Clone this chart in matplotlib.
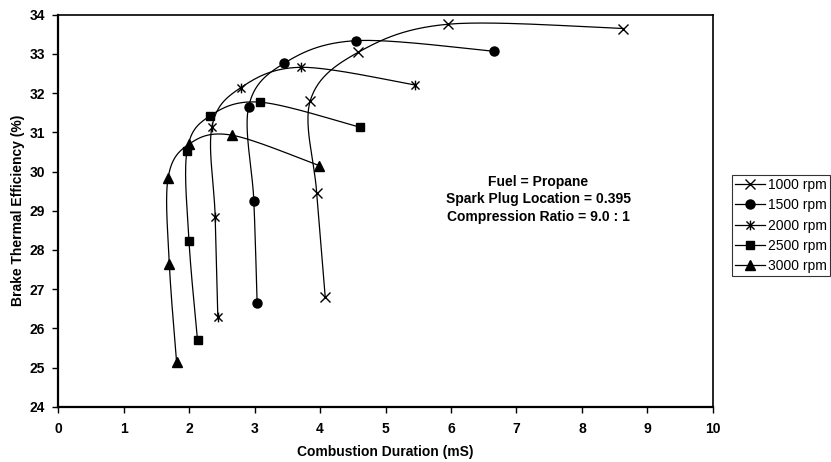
import numpy as np
import matplotlib
matplotlib.use("Agg")
import matplotlib.pyplot as plt
from matplotlib.path import Path

plt.rcParams['font.family'] = ['Liberation Sans', 'DejaVu Sans']

labels = ["1000 rpm", "1500 rpm", "2000 rpm", "2500 rpm", "3000 rpm"]
x1000 = [4.08, 3.95, 3.85, 4.58, 5.96, 8.63]
y1000 = [26.79, 29.46, 31.80, 33.04, 33.76, 33.65]
x1500 = [3.04, 2.99, 2.91, 3.45, 4.55, 6.66]
y1500 = [26.65, 29.25, 31.65, 32.76, 33.34, 33.07]
x2000 = [2.44, 2.40, 2.35, 2.79, 3.71, 5.45]
y2000 = [26.30, 28.85, 31.14, 32.14, 32.66, 32.21]
x2500 = [2.13, 2.00, 1.97, 2.32, 3.09, 4.61]
y2500 = [25.70, 28.23, 30.53, 31.42, 31.77, 31.13]
x3000 = [1.81, 1.70, 1.68, 2.00, 2.65, 3.99]
y3000 = [25.15, 27.63, 29.83, 30.70, 30.93, 30.15]

xs = [x1000, x1500, x2000, x2500, x3000]
ys = [y1000, y1500, y2000, y2500, y3000]

star = Path([(-1, -1), (1, 1), (-1, 1), (1, -1), (0, -1.2), (0, 1.2)],
            [Path.MOVETO, Path.LINETO, Path.MOVETO, Path.LINETO, Path.MOVETO, Path.LINETO])
markers = ['x', 'o', star, 's', '^']
msizes = [7, 6.5, 7, 5.5, 6.5]


def smooth(x, y, sx=65.5, sy=39.2, n=30):
    P = np.column_stack([np.array(x) * sx, np.array(y) * sy])
    Pe = np.vstack([P[0], P, P[-1]])
    out = []
    t = np.linspace(0, 1, n)[:, None]
    for i in range(1, len(Pe) - 2):
        p0, p1, p2, p3 = Pe[i - 1], Pe[i], Pe[i + 1], Pe[i + 2]
        c1 = p1 + (p2 - p0) / 6
        c2 = p2 - (p3 - p1) / 6
        seg = ((1 - t) ** 3) * p1 + 3 * ((1 - t) ** 2) * t * c1 + 3 * (1 - t) * t ** 2 * c2 + t ** 3 * p2
        out.append(seg)
    out = np.vstack(out)
    return out[:, 0] / sx, out[:, 1] / sy


fig = plt.figure(figsize=(8.31, 4.62), dpi=100)
ax = fig.add_axes([0.0698, 0.1197, 0.858 - 0.0698, 0.968 - 0.1197])

handles = []
for x, y, m, ms, lab in zip(xs, ys, markers, msizes, labels):
    sxv, syv = smooth(x, y)
    ax.plot(sxv, syv, color='black', lw=0.9)
    ax.plot(x, y, linestyle='none', marker=m, markersize=ms, color='black',
            markeredgewidth=1.0)
    h, = ax.plot([], [], color='black', lw=0.9, marker=m, markersize=ms,
                 markeredgewidth=1.0, label=lab)
    handles.append(h)

ax.set_xlim(0, 10)
ax.set_ylim(24, 34)
ax.set_xticks(range(0, 11))
ax.set_yticks(range(24, 35))
for lab in ax.get_xticklabels() + ax.get_yticklabels():
    lab.set_fontweight('bold')
    lab.set_fontsize(10)
ax.tick_params(axis='x', direction='out', length=4.5, width=1, pad=6.5)
ax.tick_params(axis='y', direction='out', length=4.5, width=1, pad=4.9)
for s in ['left', 'bottom']:
    ax.spines[s].set_linewidth(1.6)
for s in ['top', 'right']:
    ax.spines[s].set_linewidth(1.2)

ax.set_xlabel('Combustion Duration (mS)', fontsize=10, fontweight='bold', labelpad=6.5)
ax.set_ylabel('Brake Thermal Efficiency (%)', fontsize=10, fontweight='bold', labelpad=3.0)

ax.text(7.33, 29.29, 'Fuel = Propane\nSpark Plug Location = 0.395\nCompression Ratio = 9.0 : 1',
        ha='center', va='center', fontsize=10, fontweight='bold', linespacing=1.35)

leg = fig.legend(handles=handles, loc='upper left', bbox_to_anchor=(732 / 831, 1 - 175 / 462),
                 fontsize=10, frameon=True, fancybox=False, edgecolor='black',
                 handlelength=2.2, handletextpad=0.2, labelspacing=0.46, borderpad=0.2,
                 borderaxespad=0)
leg.get_frame().set_linewidth(0.8)

fig.savefig('out.png', dpi=100)
